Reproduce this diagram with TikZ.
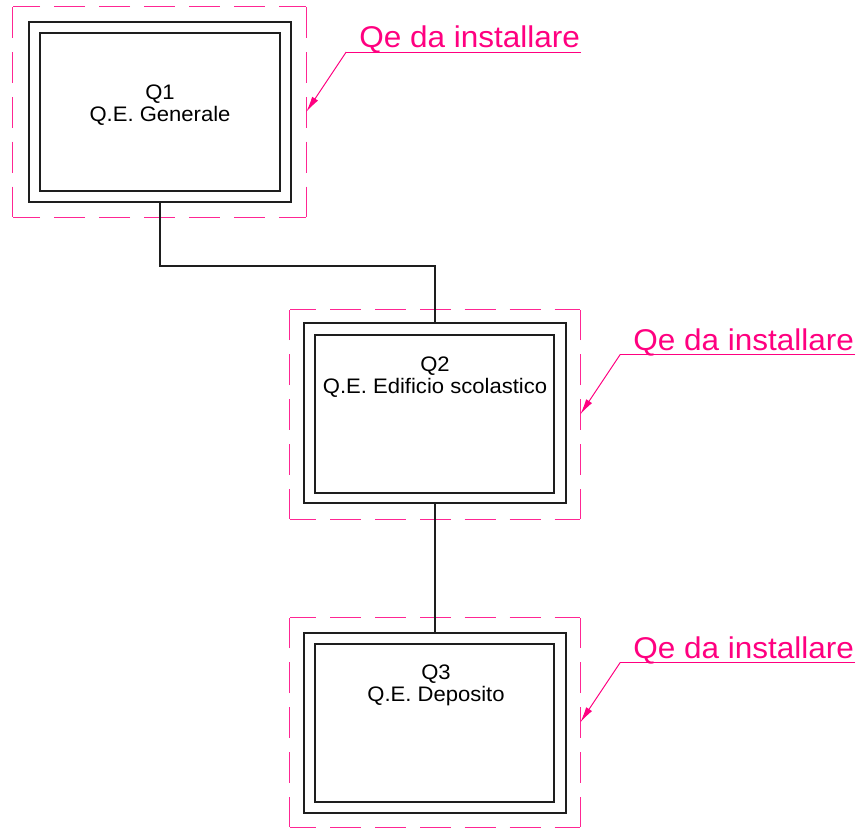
\documentclass[tikz,border=0pt]{standalone}
\usepackage{fontspec}
\setmainfont{Liberation Sans}[FakeStretch=1.05]
\usetikzlibrary{arrows.meta,calc}
\definecolor{qpink}{RGB}{255,0,128}
\definecolor{qline}{RGB}{30,30,30}
\newcommand\zonedraw[1]{%
  \draw[dashedge] (#1.north) -- (#1.north west);
  \draw[dashedge] (#1.north) -- (#1.north east);
  \draw[dashedge] (#1.south) -- (#1.south west);
  \draw[dashedge] (#1.south) -- (#1.south east);
  \draw[dashedge] (#1.west) -- (#1.north west);
  \draw[dashedge] (#1.west) -- (#1.south west);
  \draw[dashedge] (#1.east) -- (#1.north east);
  \draw[dashedge] (#1.east) -- (#1.south east);}
\newcommand\zonelabel[2]{%
  \coordinate (#2u) at ($(#1.east)+(40,-60)$);
  \coordinate (#2e) at ($(#2u)+(235,0)$);
  \node[lbl] (#2) at ($(#2u)+(13,-4.5)$) {Qe da installare};
  \draw[pinkline] (#2e) -- (#2u);
  \draw[leader] (#2u) -- (#1.east);}
\begin{document}
\begin{tikzpicture}[x=1pt,y=-1pt,
  outerbox/.style={draw=qline,line width=1.5pt,minimum width=262pt,minimum height=180pt,inner sep=0pt},
  innerbox/.style={draw=qline,line width=1.5pt,minimum width=240pt,minimum height=158pt,inner sep=0pt},
  zone/.style={draw=none,minimum width=292pt,minimum height=210pt,inner sep=0pt},
  dashedge/.style={draw=qpink!85,line width=1.2pt,dash pattern=on 31pt off 14pt,dash phase=15.5pt},
  boxtext/.style={font=\fontsize{21}{22}\selectfont,align=center,inner sep=0pt,text=black,anchor=base},
  lbl/.style={font=\fontsize{30}{34}\selectfont,text=qpink,inner sep=0pt,anchor=base west},
  pinkline/.style={draw=qpink,line width=1pt},
  leader/.style={draw=qpink,line width=1pt,-{Latex[length=16pt,width=7pt]}},
  conn/.style={draw=qline,line width=1.5pt}]
\clip (0,0) rectangle (864,827);
\fill[white] (0,0) rectangle (864,827);

% Q1
\node[zone,minimum width=293pt] (d1) at (159.5,112) {};
\node[outerbox] (q1) at (160,112) {};
\node[innerbox] (i1) at (160,112) {};
\node[boxtext] (t1) at (160,121) {Q1\\Q.E. Generale};
% Q2
\node[zone,minimum width=290pt,minimum height=209pt] (d2) at (435,414.5) {};
\node[outerbox] (q2) at (435,413) {};
\node[innerbox,minimum width=239pt] (i2) at (434.5,414) {};
\node[boxtext] (t2) at (435,393) {Q2\\Q.E. Edificio scolastico};
% Q3
\node[zone,minimum width=290pt,minimum height=209pt] (d3) at (435,722.5) {};
\node[outerbox] (q3) at (435,723) {};
\node[innerbox,minimum width=239pt] (i3) at (434.5,723) {};
\node[boxtext] (t3) at (436,701) {Q3\\Q.E. Deposito};

\zonedraw{d1}
\zonedraw{d2}
\zonedraw{d3}

% connectors
\coordinate (bend) at (435,266);
\draw[conn] (q1.south) |- (bend) -- (q2.north);
\draw[conn] (q2.south) -- (q3.north);

% labels
\zonelabel{d1}{l1}
\zonelabel{d2}{l2}
\zonelabel{d3}{l3}
\end{tikzpicture}
\end{document}
